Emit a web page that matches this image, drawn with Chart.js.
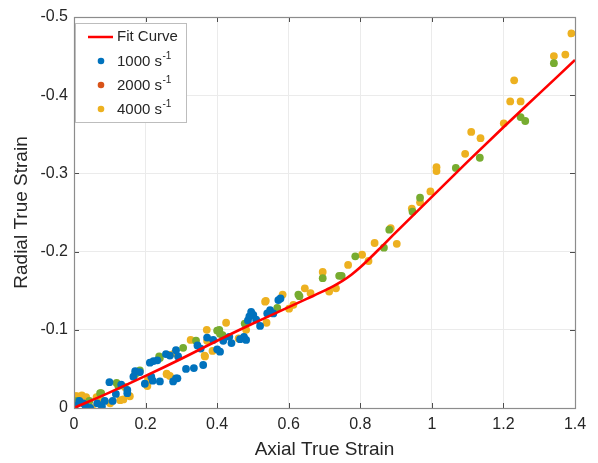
<!DOCTYPE html>
<html><head><meta charset="utf-8">
<script src="https://cdn.jsdelivr.net/npm/chart.js@4/dist/chart.umd.min.js"></script>
<style>html,body{margin:0;padding:0;background:#fff}#wrap{width:598px;height:463px;position:relative}</style>
</head><body><div id="wrap"><canvas id="c" width="598" height="463"></canvas></div>
<script>
const xTickValues = [0, 0.2, 0.4, 0.6, 0.8, 1, 1.2, 1.4];
const yTickValues = [-0.5, -0.4, -0.3, -0.2, -0.1, 0];

const fitX = [0, 0.1, 0.2, 0.3, 0.4, 0.5, 0.6, 0.65, 0.7, 0.725, 0.75, 0.775, 0.8, 0.85, 0.9, 1.0, 1.1, 1.2, 1.3, 1.4];
const fitY = [0, -0.02, -0.041, -0.063, -0.086, -0.108, -0.129, -0.1395, -0.150, -0.1558, -0.1625, -0.1705, -0.180, -0.202, -0.225, -0.270, -0.315, -0.359, -0.402, -0.445];

const s1000X = [0.002,0.015,0.026,0.032,0.045,0.065,0.078,0.086,0.099,0.108,0.117,0.132,0.149,0.149,0.166,0.171,0.184,0.198,0.212,0.216,0.220,0.222,0.233,0.240,0.257,0.268,0.277,0.285,0.285,0.289,0.291,0.313,0.335,0.345,0.354,0.361,0.372,0.389,0.400,0.408,0.417,0.434,0.440,0.464,0.475,0.481,0.486,0.490,0.495,0.501,0.509,0.520,0.540,0.548,0.557,0.571,0.577];
const s1000Y = [-0.003,-0.009,-0.006,-0.003,0,-0.006,-0.002,-0.009,-0.033,-0.009,-0.018,-0.030,-0.019,-0.023,-0.040,-0.047,-0.046,-0.031,-0.058,-0.040,-0.035,-0.060,-0.061,-0.034,-0.069,-0.067,-0.034,-0.074,-0.038,-0.038,-0.066,-0.050,-0.051,-0.080,-0.076,-0.055,-0.090,-0.087,-0.075,-0.072,-0.086,-0.091,-0.083,-0.088,-0.091,-0.087,-0.112,-0.117,-0.123,-0.119,-0.113,-0.105,-0.121,-0.125,-0.121,-0.138,-0.140];

const s2000X = [0.004,0.009,0.043,0.073,0.076,0.119,0.124,0.171,0.184,0.238,0.240,0.305,0.341,0.400,0.406,0.408,0.415,0.477,0.568,0.627,0.630,0.695,0.741,0.748,0.786,0.866,0.881,0.946,0.967,1.067,1.134,1.248,1.261,1.341];
const s2000Y = [-0.006,-0.009,-0.009,-0.019,-0.019,-0.032,-0.028,-0.043,-0.048,-0.066,-0.064,-0.077,-0.086,-0.099,-0.100,-0.095,-0.093,-0.108,-0.128,-0.145,-0.143,-0.166,-0.169,-0.169,-0.194,-0.205,-0.228,-0.251,-0.269,-0.307,-0.320,-0.372,-0.367,-0.441];

const s4000X = [0.004,0.008,0.022,0.034,0.050,0.063,0.073,0.101,0.129,0.138,0.142,0.156,0.205,0.207,0.259,0.259,0.268,0.268,0.281,0.326,0.365,0.366,0.371,0.372,0.387,0.425,0.460,0.481,0.534,0.536,0.538,0.583,0.601,0.613,0.645,0.661,0.695,0.713,0.732,0.766,0.805,0.823,0.840,0.885,0.902,0.944,0.967,0.996,1.013,1.013,1.093,1.110,1.136,1.201,1.219,1.230,1.248,1.341,1.373,1.390];
const s4000Y = [-0.015,-0.015,-0.016,-0.014,0,-0.014,-0.011,-0.006,-0.010,-0.011,-0.027,-0.015,-0.028,-0.037,-0.044,-0.043,-0.068,-0.041,-0.070,-0.087,-0.067,-0.066,-0.100,-0.086,-0.073,-0.109,-0.089,-0.100,-0.136,-0.137,-0.109,-0.145,-0.127,-0.132,-0.153,-0.147,-0.174,-0.149,-0.153,-0.183,-0.196,-0.188,-0.211,-0.230,-0.210,-0.255,-0.263,-0.277,-0.303,-0.308,-0.325,-0.353,-0.345,-0.364,-0.392,-0.419,-0.392,-0.450,-0.452,-0.479];

const seriesNames = ['Fit Curve', '1000 s', '2000 s', '4000 s'];
const unitSup = '-1';
const xTitle = 'Axial True Strain';
const yTitle = 'Radial True Strain';

const FONT = "'Liberation Sans', Arial, Helvetica, sans-serif";
const TXT = '#262626';
const C_FIT = '#FF0000', C_1000 = '#0072BD', C_2000 = '#77AC30', C_2000_LEG = '#D95319', C_4000 = '#EDB120';

const pts = (xs, ys) => xs.map((x, i) => ({x: x, y: ys[i]}));
const fmt = v => { const r = Math.round(v * 10) / 10; return (r === 0 ? 0 : r).toString(); };

const framePlugin = {
  id: 'frame',
  afterDraw(chart) {
    const {ctx, chartArea: a, scales} = chart;
    ctx.save();
    ctx.strokeStyle = '#4d4d4d';
    ctx.lineWidth = 1;
    const tl = 5;
    ctx.beginPath();
    xTickValues.forEach(v => {
      const px = Math.round(scales.x.getPixelForValue(v)) + 0.5;
      ctx.moveTo(px, a.bottom); ctx.lineTo(px, a.bottom - tl);
      ctx.moveTo(px, a.top); ctx.lineTo(px, a.top + tl);
    });
    yTickValues.forEach(v => {
      const py = Math.round(scales.y.getPixelForValue(v)) + 0.5;
      ctx.moveTo(a.left, py); ctx.lineTo(a.left + tl, py);
      ctx.moveTo(a.right, py); ctx.lineTo(a.right - tl, py);
    });
    ctx.stroke();
    ctx.strokeStyle = '#8c8c8c';
    ctx.lineWidth = 1.2;
    ctx.strokeRect(Math.round(a.left) + 0.5, Math.round(a.top) + 0.5, Math.round(a.right - a.left), Math.round(a.bottom - a.top));

    // legend
    const lx = 75.5, ly = 23.5, lw = 111, lh = 99;
    ctx.fillStyle = '#ffffff';
    ctx.fillRect(lx, ly, lw, lh);
    ctx.strokeStyle = '#bdbdbd';
    ctx.lineWidth = 1;
    ctx.strokeRect(lx, ly, lw, lh);
    const rows = [37, 62, 86, 110];
    const markerCols = [C_FIT, C_1000, C_2000_LEG, C_4000];
    ctx.textBaseline = 'middle';
    ctx.textAlign = 'left';
    rows.forEach((ry, i) => {
      if (i === 0) {
        ctx.strokeStyle = C_FIT; ctx.lineWidth = 2.5;
        ctx.beginPath(); ctx.moveTo(88, ry); ctx.lineTo(113, ry); ctx.stroke();
      } else {
        ctx.fillStyle = markerCols[i];
        ctx.beginPath(); ctx.arc(101, ry - 1, 3.3, 0, Math.PI * 2); ctx.fill();
      }
      ctx.fillStyle = TXT;
      ctx.font = '15px ' + FONT;
      ctx.fillText(seriesNames[i], 117, ry);
      if (i > 0) {
        const w = ctx.measureText(seriesNames[i]).width;
        ctx.font = '10px ' + FONT;
        ctx.fillText(unitSup, 117 + w + 0.5, ry - 6);
      }
    });
    ctx.restore();
  }
};

new Chart(document.getElementById('c'), {
  type: 'scatter',
  data: {
    datasets: [
      { label: seriesNames[0], data: pts(fitX, fitY), showLine: true, borderColor: C_FIT, backgroundColor: C_FIT, borderWidth: 2.6, pointRadius: 0, cubicInterpolationMode: 'monotone', order: 0 },
      { label: seriesNames[1], data: pts(s1000X, s1000Y), backgroundColor: C_1000, borderWidth: 0, pointRadius: 3.9, order: 1 },
      { label: seriesNames[2], data: pts(s2000X, s2000Y), backgroundColor: C_2000, borderWidth: 0, pointRadius: 3.9, order: 2 },
      { label: seriesNames[3], data: pts(s4000X, s4000Y), backgroundColor: C_4000, borderWidth: 0, pointRadius: 3.9, order: 3 }
    ]
  },
  options: {
    responsive: false,
    animation: false,
    devicePixelRatio: 1,
    layout: { padding: { top: 17, right: 23, left: 0, bottom: 0 } },
    plugins: { legend: { display: false }, tooltip: { enabled: false } },
    scales: {
      x: {
        type: 'linear', min: 0, max: 1.4,
        afterBuildTicks: s => { s.ticks = xTickValues.map(v => ({value: v})); },
        afterFit: s => { s.height = 55; },
        grid: { color: '#ebebeb', lineWidth: 1, drawTicks: false },
        border: { display: false },
        ticks: { padding: 7, color: TXT, font: { family: FONT, size: 16 }, callback: v => fmt(v), maxRotation: 0 },
        title: { display: true, text: xTitle, color: TXT, font: { family: FONT, size: 19 }, padding: { top: 0, bottom: 2 } }
      },
      y: {
        type: 'linear', min: -0.5, max: 0, reverse: true,
        afterBuildTicks: s => { s.ticks = yTickValues.map(v => ({value: v})); },
        afterFit: s => { s.width = 74; },
        grid: { color: '#ebebeb', lineWidth: 1, drawTicks: false },
        border: { display: false },
        ticks: { padding: 6, color: TXT, font: { family: FONT, size: 16 }, callback: v => fmt(v) },
        title: { display: true, text: yTitle, color: TXT, font: { family: FONT, size: 19 }, padding: { top: 10, bottom: 0 } }
      }
    }
  },
  plugins: [framePlugin]
});
</script>
</body></html>
